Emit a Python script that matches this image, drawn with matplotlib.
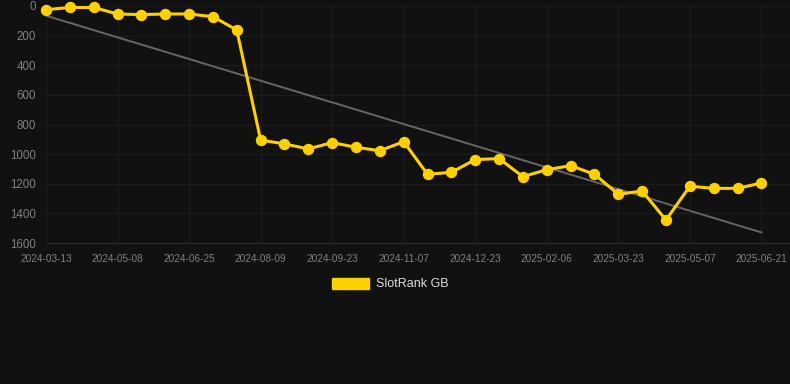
import numpy as np
import matplotlib.pyplot as plt
from matplotlib.patches import Patch

# rank history (lower is better), one point per snapshot
dates = [
    "2024-03-13", "2024-04-01", "2024-04-20", "2024-05-08", "2024-05-24",
    "2024-06-09", "2024-06-25", "2024-07-10", "2024-07-25", "2024-08-09",
    "2024-08-24", "2024-09-08", "2024-09-23", "2024-10-08", "2024-10-23",
    "2024-11-07", "2024-11-22", "2024-12-08", "2024-12-23", "2025-01-07",
    "2025-01-22", "2025-02-06", "2025-02-21", "2025-03-08", "2025-03-23",
    "2025-04-07", "2025-04-22", "2025-05-07", "2025-05-22", "2025-06-06",
    "2025-06-21",
]
ranks = [
    25, 10, 10, 54, 58, 54, 54, 72, 162, 905,
    931, 965, 922, 954, 977, 916, 1136, 1123, 1037, 1030,
    1152, 1105, 1078, 1136, 1271, 1249, 1445, 1217, 1231, 1231,
    1195,
]
series_name = "SlotRank GB"
y_ticks = [0, 200, 400, 600, 800, 1000, 1200, 1400, 1600]

bg = "#111111"
gold = "#FFD000"

fig = plt.figure(figsize=(7.9, 3.84), dpi=100, facecolor=bg)
ax = fig.add_axes([46 / 790, 1 - 243 / 384, 1 - 46 / 790, (243 - 6) / 384])
ax.set_facecolor(bg)

x = np.arange(len(ranks))

# trend line (least squares)
k, b = np.polyfit(x, ranks, 1)
ax.plot(x, k * x + b, color="#666666", lw=1.4, zorder=2)

ax.plot(x, ranks, color=gold, lw=2.2, marker="o", markersize=7.2,
        zorder=3, clip_on=False)

ax.set_ylim(1600, 0)
ax.set_xlim(0, 31.2)
ax.set_yticks(y_ticks)
ax.set_xticks(x[::3])
ax.set_xticklabels(dates[::3])

ax.grid(True, color="#1d1d1d", lw=0.8)
ax.set_axisbelow(True)
for s in ax.spines.values():
    s.set_visible(False)
ax.spines["bottom"].set_visible(True)
ax.spines["bottom"].set_color("#2a2a2a")
ax.tick_params(length=0, colors="#808080")
ax.tick_params(axis="x", labelsize=7.2, pad=8)
ax.tick_params(axis="y", labelsize=8.3, pad=7)
for lab in ax.get_xticklabels() + ax.get_yticklabels():
    lab.set_fontfamily("Liberation Sans")

handle = Patch(facecolor=gold, edgecolor=gold)
leg = fig.legend([handle], [series_name], loc="center", bbox_to_anchor=(390 / 790, 1 - 284 / 384),
                 frameon=False, handlelength=3.0, handleheight=1.0, handletextpad=0.5,
                 prop={"family": "Liberation Sans", "size": 9})
for t in leg.get_texts():
    t.set_color("#dddddd")

fig.savefig("out.png", dpi=100, facecolor=bg)
